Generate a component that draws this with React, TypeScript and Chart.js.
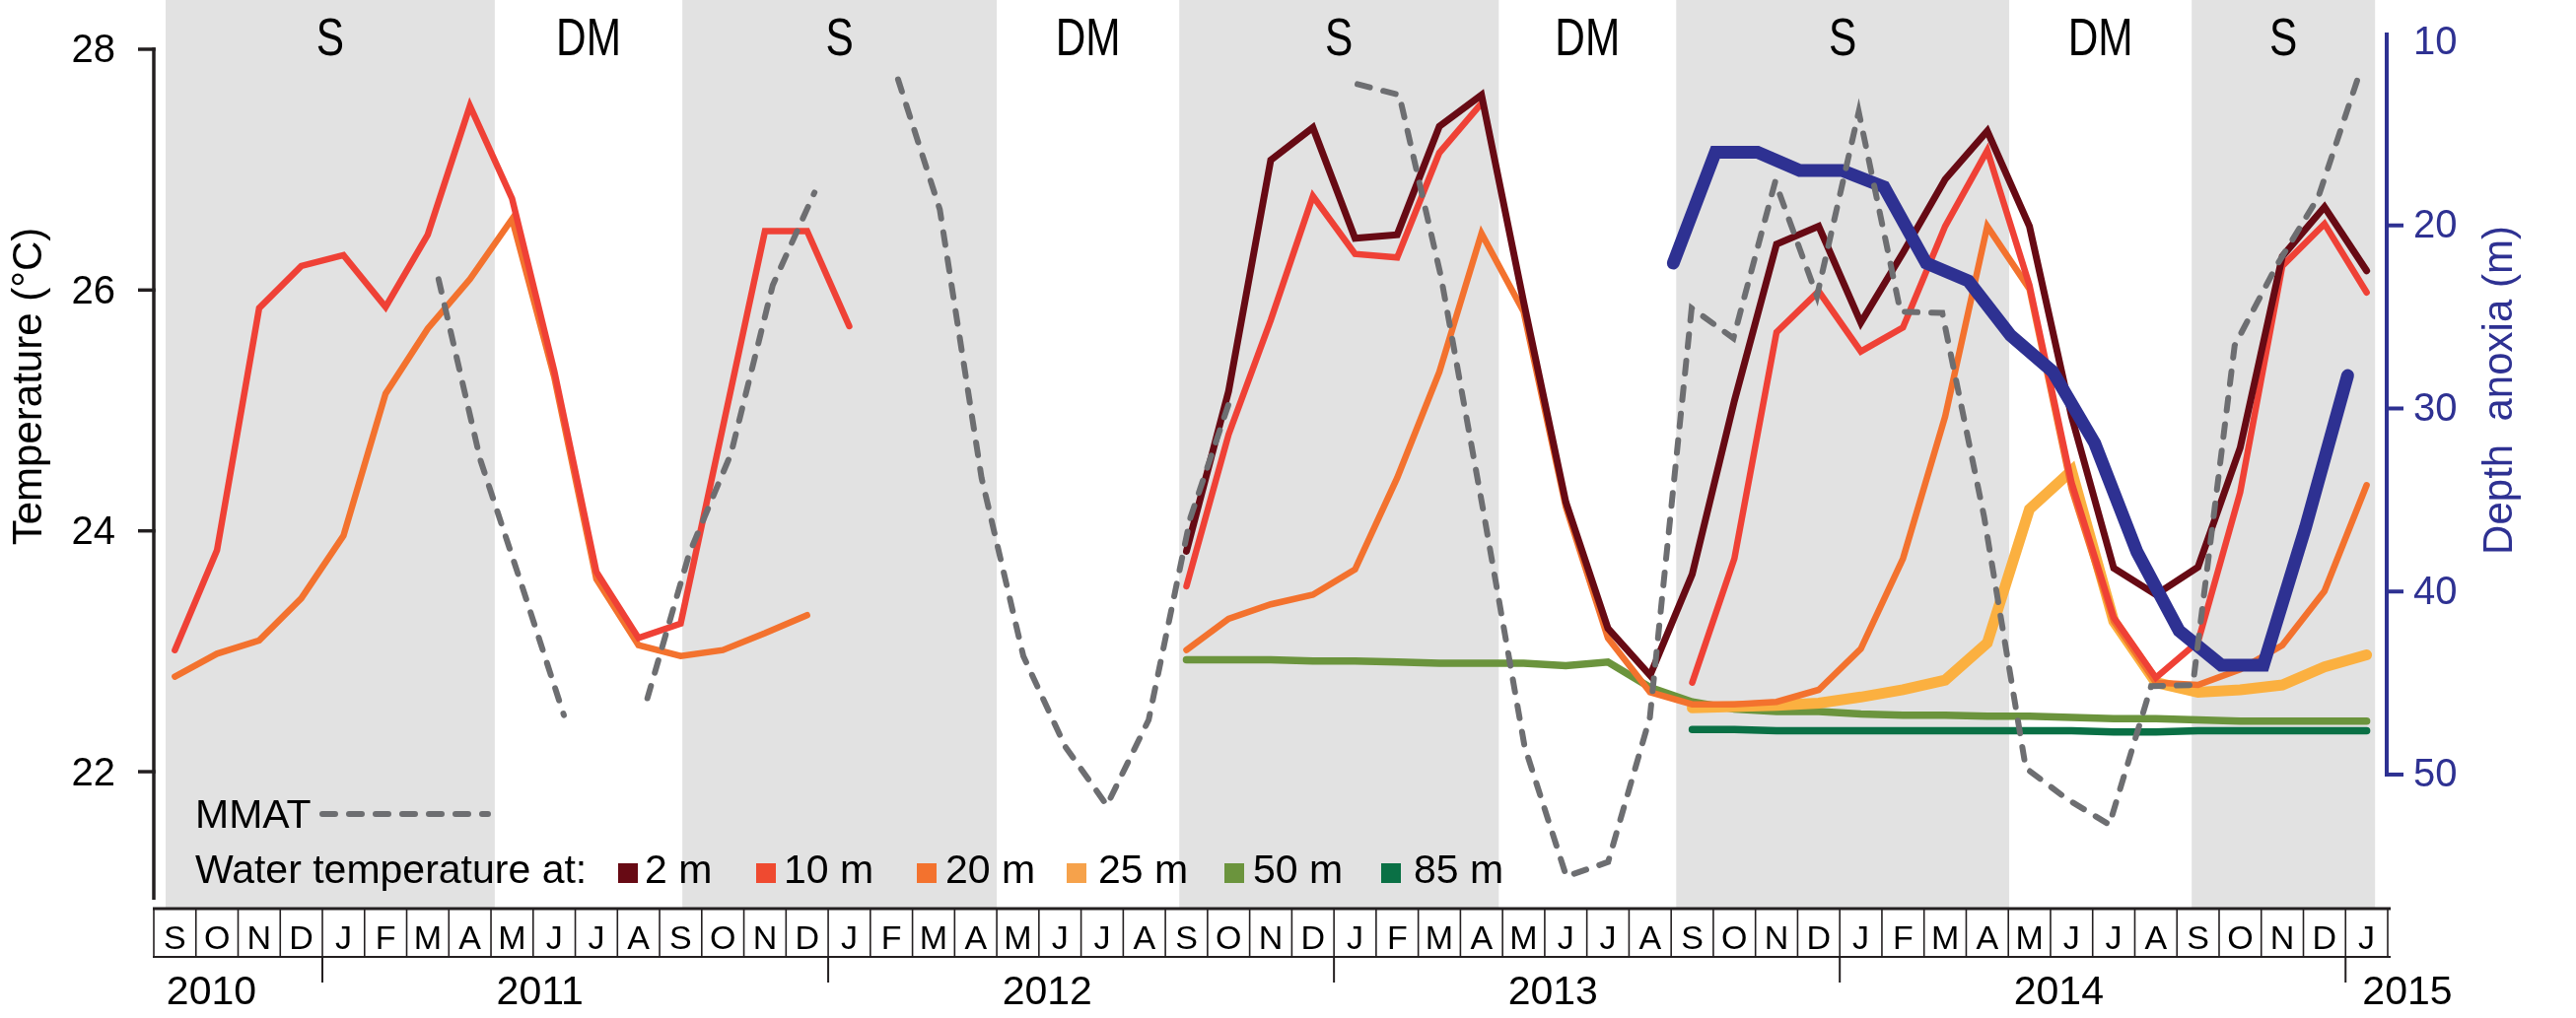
import React, { useEffect, useRef } from 'react';
import { Chart, registerables } from 'chart.js';

Chart.register(...registerables);

// ---------- data ----------
// months from Sep 2010 to Jan 2015 (53 months)
const monthLetters = [
  'S', 'O', 'N', 'D',
  'J', 'F', 'M', 'A', 'M', 'J', 'J', 'A', 'S', 'O', 'N', 'D',
  'J', 'F', 'M', 'A', 'M', 'J', 'J', 'A', 'S', 'O', 'N', 'D',
  'J', 'F', 'M', 'A', 'M', 'J', 'J', 'A', 'S', 'O', 'N', 'D',
  'J', 'F', 'M', 'A', 'M', 'J', 'J', 'A', 'S', 'O', 'N', 'D',
  'J',
];
const yearLabels = ['2010', '2011', '2012', '2013', '2014', '2015'];
const yearStartMonths = [4, 16, 28, 40, 52];

const seasonNames = ['S', 'DM', 'S', 'DM', 'S', 'DM', 'S', 'DM', 'S'];
const seasonEdges = [0.28, 8.09, 12.54, 20.0, 24.33, 31.91, 36.12, 44.02, 48.35, 52.7];

const tempTicks = [22, 24, 26, 28];
const depthTicks = [10, 20, 30, 40, 50];

const N = null;
const temp2m = [
  N, N, N, N, N, N, N, N, N, N, N, N, N, N, N, N, N, N, N, N, N, N, N, N,
  23.83, 25.16, 27.08, 27.35, 26.43, 26.46, 27.36, 27.62, 25.9, 24.24, 23.19, 22.8,
  23.64, 25.08, 26.38, 26.53, 25.73, 26.31, 26.92, 27.32, 26.53, 24.95, 23.69, 23.47,
  23.7, 24.69, 26.28, 26.69, 26.16,
];
const temp10m = [
  23.01, 23.84, 25.85, 26.2, 26.29, 25.86, 26.46, 27.53, 26.76, 25.33, 23.66, 23.11,
  23.23, 24.86, 26.49, 26.49, 25.7, N, N, N, N, N, N, N,
  23.54, 24.8, 25.75, 26.78, 26.3, 26.27, 27.14, 27.55, N, N, N, N,
  22.74, 23.77, 25.65, 25.99, 25.49, 25.69, 26.53, 27.16, 26.04, 24.4, 23.28, 22.78,
  23.08, 24.32, 26.2, 26.55, 25.98,
];
const temp20m = [
  22.79, 22.98, 23.09, 23.44, 23.96, 25.14, 25.68, 26.09, 26.59, 25.28, 23.6, 23.05,
  22.96, 23.01, 23.15, 23.3, N, N, N, N, N, N, N, N,
  23.01, 23.27, 23.39, 23.47, 23.68, 24.44, 25.32, 26.47, 25.82, 24.2, 23.11, 22.66,
  22.56, 22.56, 22.58, 22.68, 23.02, 23.77, 24.95, 26.53, 26.01, 24.35, 23.25, 22.74,
  22.72, 22.85, 23.05, 23.5, 24.38,
];
const temp25m = [
  N, N, N, N, N, N, N, N, N, N, N, N, N, N, N, N, N, N, N, N, N, N, N, N,
  N, N, N, N, N, N, N, N, N, N, N, N,
  22.53, 22.54, 22.55, 22.57, 22.62, 22.68, 22.76, 23.07, 24.18, 24.5, 23.25, 22.74,
  22.66, 22.68, 22.72, 22.87, 22.97,
];
const temp50m = [
  N, N, N, N, N, N, N, N, N, N, N, N, N, N, N, N, N, N, N, N, N, N, N, N,
  22.93, 22.93, 22.93, 22.92, 22.92, 22.91, 22.9, 22.9, 22.9, 22.88, 22.91, 22.7,
  22.58, 22.52, 22.5, 22.5, 22.48, 22.47, 22.47, 22.46, 22.46, 22.45, 22.44, 22.44,
  22.43, 22.42, 22.42, 22.42, 22.42,
];
const temp85m = [
  N, N, N, N, N, N, N, N, N, N, N, N, N, N, N, N, N, N, N, N, N, N, N, N,
  N, N, N, N, N, N, N, N, N, N, N, N,
  22.35, 22.35, 22.34, 22.34, 22.34, 22.34, 22.34, 22.34, 22.34, 22.34, 22.33, 22.33,
  22.34, 22.34, 22.34, 22.34, 22.34,
];
const mmat = [
  N, N, N, N, N, N, 26.09, 24.59, 23.54, 22.47, N, 22.61,
  23.81, 24.64, 26.04, 26.81, N, 27.75, 26.67, 24.44, 22.96, 22.21, 21.72, 22.43,
  24.11, 25.14, N, N, 27.71, 27.62, 26.11, 24.19, 22.21, 21.13, 21.25, 22.45,
  25.85, 25.6, 26.9, 25.95, 27.48, 25.82, 25.81, 24.12, 22.03, 21.77, 21.56, 22.71,
  22.72, 25.54, 26.2, 26.77, 27.81,
];
const depthAnoxia = [
  N, N, N, N, N, N, N, N, N, N, N, N, N, N, N, N, N, N, N, N, N, N, N, N,
  N, N, N, N, N, N, N, N, N, N, N, N,
  22.06, 16.0, 16.0, 17.0, 17.0, 17.9, 22.06, 23.03, 26.0, 27.98, 31.9, 37.83,
  42.14, 44.02, 44.02, 36.5, 28.2,
];

const depthLegend = ['2 m', '10 m', '20 m', '25 m', '50 m', '85 m'];

// ---------- styles ----------
const C2 = '#670A14';
const C10 = '#EF4136';
const C20 = '#F3722E';
const C25 = '#FBB040';
const C50 = '#6B943D';
const C85 = '#0A7045';
const CNAVY = '#2E3192';
const CMMAT = '#6D6E71';
const legendColors = [C2, '#EF4A30', C20, '#F6A24B', C50, C85];
const FONT = '"Liberation Sans", Arial, Helvetica, sans-serif';

const W = 2613;
const H = 1033;

const monthX = (i: number) => i + 0.5;
const mmatX = (i: number) => 0.81 + 0.991 * i; // MMAT series uses its own time base
const depthX = (i: number) => i + 0.05;

function toPoints(values: (number | null)[], xf: (i: number) => number) {
  return values.map((v, i) => ({ x: xf(i), y: v }));
}

const decorPlugin = {
  id: 'decor',
  beforeDatasetsDraw(chart: any) {
    const { ctx, chartArea, scales } = chart;
    const xs = scales.x;
    ctx.save();
    ctx.fillStyle = '#e2e2e2';
    for (let k = 0; k < seasonNames.length; k++) {
      if (seasonNames[k] !== 'S') continue;
      const x0 = xs.getPixelForValue(seasonEdges[k]);
      const x1 = xs.getPixelForValue(seasonEdges[k + 1]);
      ctx.fillRect(x0, chartArea.top, x1 - x0, chartArea.bottom - chartArea.top);
    }
    ctx.fillStyle = '#000';
    ctx.font = '53px ' + FONT;
    ctx.textAlign = 'center';
    ctx.textBaseline = 'alphabetic';
    for (let k = 0; k < seasonNames.length; k++) {
      const xc = xs.getPixelForValue((seasonEdges[k] + seasonEdges[k + 1]) / 2);
      ctx.save();
      ctx.translate(xc, 56);
      ctx.scale(0.8, 1);
      ctx.fillText(seasonNames[k], 0, 0);
      ctx.restore();
    }
    ctx.restore();
  },
  afterDraw(chart: any) {
    const { ctx, scales } = chart;
    const xs = scales.x;
    const yl = scales.y;
    const yr = scales.y2;
    const ink = '#231F20';
    ctx.save();

    // left axis
    const xl = xs.getPixelForValue(0);
    ctx.strokeStyle = ink;
    ctx.lineWidth = 3.5;
    ctx.lineCap = 'butt';
    ctx.beginPath();
    ctx.moveTo(xl, yl.getPixelForValue(28) - 1.75);
    ctx.lineTo(xl, 913);
    ctx.stroke();
    ctx.fillStyle = '#000';
    ctx.font = '40px ' + FONT;
    ctx.textAlign = 'right';
    ctx.textBaseline = 'alphabetic';
    for (const t of tempTicks) {
      const y = yl.getPixelForValue(t);
      ctx.beginPath();
      ctx.moveTo(xl - 16, y);
      ctx.lineTo(xl + 1.75, y);
      ctx.stroke();
      ctx.fillText(String(t), xl - 39, y + 13.5);
    }

    // right axis
    const xr = xs.getPixelForValue(53) - 1;
    ctx.strokeStyle = CNAVY;
    ctx.lineWidth = 4;
    ctx.beginPath();
    ctx.moveTo(xr, 33);
    ctx.lineTo(xr, yr.getPixelForValue(50) + 2);
    ctx.stroke();
    ctx.fillStyle = CNAVY;
    ctx.textAlign = 'left';
    for (const t of depthTicks) {
      const y = yr.getPixelForValue(t);
      if (t !== 10) {
        ctx.beginPath();
        ctx.moveTo(xr - 2, y);
        ctx.lineTo(xr + 17, y);
        ctx.stroke();
      }
      ctx.fillText(String(t), xr + 27, y + 12.5);
    }

    // axis titles
    ctx.font = '42px ' + FONT;
    ctx.textAlign = 'center';
    ctx.save();
    ctx.translate(42, 392);
    ctx.rotate(-Math.PI / 2);
    ctx.fillStyle = '#000';
    ctx.fillText('Temperature (\u00B0C)', 0, 0);
    ctx.restore();
    ctx.save();
    ctx.translate(2548, 396);
    ctx.rotate(-Math.PI / 2);
    ctx.fillStyle = CNAVY;
    ctx.fillText('Depth  anoxia (m)', 0, 0);
    ctx.restore();

    // month boxes
    const x0 = xs.getPixelForValue(0);
    const x53 = xs.getPixelForValue(53);
    ctx.strokeStyle = ink;
    ctx.lineWidth = 3;
    ctx.beginPath();
    ctx.moveTo(x0 - 1, 922);
    ctx.lineTo(x53 + 3, 922);
    ctx.stroke();
    ctx.lineWidth = 2;
    ctx.beginPath();
    ctx.moveTo(x0 - 1, 971);
    ctx.lineTo(x53 + 3, 971);
    ctx.stroke();
    ctx.lineWidth = 1.6;
    for (let k = 0; k <= monthLetters.length; k++) {
      const x = xs.getPixelForValue(k);
      ctx.beginPath();
      ctx.moveTo(x, 922);
      ctx.lineTo(x, 971);
      ctx.stroke();
    }
    ctx.lineWidth = 2;
    for (const k of yearStartMonths) {
      const x = xs.getPixelForValue(k);
      ctx.beginPath();
      ctx.moveTo(x, 971);
      ctx.lineTo(x, 997);
      ctx.stroke();
    }
    ctx.fillStyle = '#000';
    ctx.font = '34px ' + FONT;
    ctx.textAlign = 'center';
    monthLetters.forEach((m, i) => {
      ctx.fillText(m, xs.getPixelForValue(i + 0.5), 963);
    });
    ctx.font = '41px ' + FONT;
    ctx.textAlign = 'left';
    const yearPos = [0.3, 8.13, 20.13, 32.13, 44.13, 52.4];
    yearLabels.forEach((y, j) => {
      ctx.fillText(y, xs.getPixelForValue(yearPos[j]), 1019);
    });

    // legend
    ctx.font = '41px ' + FONT;
    ctx.textAlign = 'left';
    ctx.fillStyle = '#000';
    ctx.fillText('MMAT', 198, 840);
    ctx.strokeStyle = CMMAT;
    ctx.lineWidth = 6;
    ctx.lineCap = 'round';
    ctx.setLineDash([13, 14]);
    ctx.beginPath();
    ctx.moveTo(327, 826);
    ctx.lineTo(495, 826);
    ctx.stroke();
    ctx.setLineDash([]);
    ctx.fillText('Water temperature at:', 198, 896);
    const sqX = [627, 767, 930, 1082, 1242, 1401];
    const txX = [654, 795, 959, 1114, 1271, 1434];
    depthLegend.forEach((lab, k) => {
      ctx.fillStyle = legendColors[k];
      ctx.fillRect(sqX[k], 876, 20, 20);
      ctx.fillStyle = '#000';
      ctx.fillText(lab, txX[k], 896);
    });

    ctx.restore();
  },
};

export default function App() {
  const ref = useRef<HTMLCanvasElement | null>(null);

  useEffect(() => {
    document.body.style.margin = '0';
    document.body.style.overflow = 'hidden';
    const canvas = ref.current;
    if (!canvas) return;
    const line = (label: string, values: (number | null)[], xf: (i: number) => number, color: string, width: number, order: number, extra: any = {}) => ({
      label,
      data: toPoints(values, xf),
      borderColor: color,
      backgroundColor: color,
      borderWidth: width,
      pointRadius: 0,
      pointHoverRadius: 0,
      tension: 0,
      fill: false,
      spanGaps: false,
      borderCapStyle: 'round',
      borderJoinStyle: 'miter',
      order,
      yAxisID: 'y',
      ...extra,
    });

    const chart = new Chart(canvas, {
      type: 'line',
      data: {
        datasets: [
          line('MMAT', mmat, mmatX, CMMAT, 6, 0, { borderDash: [13, 14] }),
          line('Depth anoxia', depthAnoxia, depthX, CNAVY, 13, 1, { yAxisID: 'y2' }),
          line('2 m', temp2m, monthX, C2, 7, 2),
          line('10 m', temp10m, monthX, C10, 6.5, 3),
          line('20 m', temp20m, monthX, C20, 6.5, 4),
          line('25 m', temp25m, monthX, C25, 11, 5),
          line('50 m', temp50m, monthX, C50, 7.5, 6),
          line('85 m', temp85m, monthX, C85, 7.5, 7),
        ] as any,
      },
      options: {
        animation: false,
        responsive: false,
        devicePixelRatio: 1,
        events: [],
        layout: { padding: { left: 156, right: W - 2422, top: 0, bottom: H - 921 } },
        scales: {
          x: { type: 'linear', min: 0, max: 53, display: false },
          y: { type: 'linear', min: 20.871, max: 28.409, display: false },
          y2: { type: 'linear', min: 7.685, max: 57.27, reverse: true, display: false },
        },
        plugins: {
          legend: { display: false },
          tooltip: { enabled: false },
        },
      } as any,
      plugins: [decorPlugin],
    });
    return () => chart.destroy();
  }, []);

  return (
    <div style={{ position: 'absolute', left: 0, top: 0, width: W, height: H, background: '#fff' }}>
      <canvas ref={ref} width={W} height={H} style={{ width: W, height: H, display: 'block' }} />
    </div>
  );
}
